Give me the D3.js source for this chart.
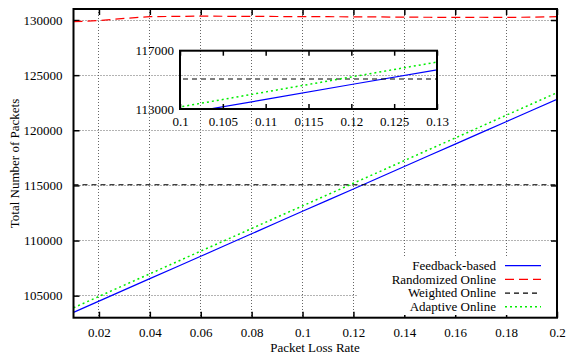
<!DOCTYPE html>
<html>
<head>
<meta charset="utf-8">
<script src="https://cdn.jsdelivr.net/npm/d3@7"></script>
<style>
  body { margin: 0; background: #fff; }
  svg text { font-family: "Liberation Serif", "Times New Roman", "DejaVu Serif", serif !important; }
</style>
</head>
<body>
<div id="chart"></div>
<script>
// data
var lossRates = [0.01, 0.02, 0.03, 0.04, 0.05, 0.06, 0.07, 0.08, 0.09, 0.10,
                 0.11, 0.12, 0.13, 0.14, 0.15, 0.16, 0.17, 0.18, 0.19, 0.20];
var feedback   = [103480, 104500, 105520, 106540, 107560, 108570, 109590, 110610, 111630, 112650,
                  113660, 114680, 115690, 116710, 117730, 118740, 119760, 120780, 121790, 122810];
var randomized = [129850, 129950, 130150, 130300, 130330, 130350, 130340, 130330, 130320, 130300,
                  130300, 130290, 130280, 130260, 130250, 130240, 130250, 130240, 130260, 130300];
var weighted   = [115060, 115060, 115060, 115060, 115060, 115060, 115060, 115060, 115060, 115060,
                  115060, 115060, 115060, 115060, 115060, 115060, 115060, 115060, 115060, 115060];
var adaptive   = [103900, 104930, 105960, 106980, 108010, 109040, 110060, 111090, 112120, 113140,
                  114170, 115200, 116220, 117250, 118280, 119300, 120330, 121360, 122380, 123410];

var xTicks = [0.02, 0.04, 0.06, 0.08, 0.1, 0.12, 0.14, 0.16, 0.18, 0.2];
var yTicks = [105000, 110000, 115000, 120000, 125000, 130000];
var insetXTicks = [0.1, 0.105, 0.11, 0.115, 0.12, 0.125, 0.13];
var insetYTicks = [113000, 117000];

var seriesNames = ["Feedback-based", "Randomized Online", "Weighted Online", "Adaptive Online"];
var seriesData = [feedback, randomized, weighted, adaptive];
var seriesColor = ["#0000ff", "#ff0000", "#000000", "#00ee00"];
var seriesDash = [null, "9,5", "5,4", "2,3"];
var seriesWidth = [1.2, 1.2, 1.2, 1.5];

var W = 569, H = 359;
var svg = d3.select("#chart").append("svg").attr("width", W).attr("height", H);

// main scales
var x = d3.scaleLinear().domain([0.01, 0.2]).range([73.5, 557]);
var y = d3.scaleLinear().domain([103000, 131000]).range([317.7, 9]);

svg.append("clipPath").attr("id", "mainClip").append("rect")
   .attr("x", 73.5).attr("y", 9).attr("width", 557 - 73.5).attr("height", 317.7 - 9);

// grid (snapped to half pixels so the dots stay crisp)
function snap(v){ return Math.round(v - 0.5) + 0.5; }
var grid = svg.append("g").attr("stroke", "#666").attr("stroke-width", 1).attr("stroke-dasharray", "1,2");
xTicks.forEach(function(t){
  if (t >= 0.2) return;
  grid.append("line").attr("x1", snap(x(t))).attr("x2", snap(x(t))).attr("y1", y(131000)).attr("y2", y(103000));
});
yTicks.forEach(function(t){
  grid.append("line").attr("x1", x(0.01)).attr("x2", x(0.2)).attr("y1", snap(y(t))).attr("y2", snap(y(t)));
});

// axes with inward ticks
var fs = "13px";
var axB = svg.append("g").attr("transform", "translate(0," + y(103000) + ")")
  .call(d3.axisBottom(x).tickValues(xTicks).tickSize(-6).tickPadding(10).tickFormat(d3.format("")));
var axT = svg.append("g").attr("transform", "translate(0," + y(131000) + ")")
  .call(d3.axisTop(x).tickValues(xTicks).tickSize(-6).tickFormat(""));
var axL = svg.append("g").attr("transform", "translate(" + x(0.01) + ",0)")
  .call(d3.axisLeft(y).tickValues(yTicks).tickSize(-6).tickPadding(11).tickFormat(d3.format("d")));
var axR = svg.append("g").attr("transform", "translate(" + x(0.2) + ",0)")
  .call(d3.axisRight(y).tickValues(yTicks).tickSize(-6).tickFormat(""));
[axB, axT, axL, axR].forEach(function(a){
  a.select(".domain").remove();
  a.selectAll(".tick line").attr("stroke", "#000").attr("stroke-width", 1.5);
  a.selectAll("text").attr("font-size", fs).attr("fill", "#000");
});

// series lines (main)
var lineMain = d3.line().x(function(d){ return x(d[0]); }).y(function(d){ return y(d[1]); });
var mainLines = svg.append("g").attr("clip-path", "url(#mainClip)");
seriesData.forEach(function(s, i){
  mainLines.append("path")
    .datum(lossRates.map(function(r, j){ return [r, s[j]]; }))
    .attr("d", lineMain).attr("fill", "none")
    .attr("stroke", seriesColor[i]).attr("stroke-width", seriesWidth[i])
    .attr("stroke-dasharray", seriesDash[i]);
});

// inset
var ix = d3.scaleLinear().domain([0.1, 0.13]).range([180, 437]);
var iy = d3.scaleLinear().domain([113000, 117000]).range([109, 50.7]);
svg.append("clipPath").attr("id", "insetClip").append("rect")
   .attr("x", 180).attr("y", 50.7).attr("width", 257).attr("height", 109 - 50.7);
var lineInset = d3.line().x(function(d){ return ix(d[0]); }).y(function(d){ return iy(d[1]); });
var insetLines = svg.append("g").attr("clip-path", "url(#insetClip)");
seriesData.forEach(function(s, i){
  insetLines.append("path")
    .datum(lossRates.map(function(r, j){ return [r, s[j]]; }))
    .attr("d", lineInset).attr("fill", "none")
    .attr("stroke", seriesColor[i]).attr("stroke-width", seriesWidth[i])
    .attr("stroke-dasharray", seriesDash[i]);
});
var iB = svg.append("g").attr("transform", "translate(0,109)")
  .call(d3.axisBottom(ix).tickValues(insetXTicks).tickSize(-5).tickPadding(8).tickFormat(d3.format("")));
var iT = svg.append("g").attr("transform", "translate(0,50.7)")
  .call(d3.axisTop(ix).tickValues(insetXTicks).tickSize(-5).tickFormat(""));
var iL = svg.append("g").attr("transform", "translate(180,0)")
  .call(d3.axisLeft(iy).tickValues(insetYTicks).tickSize(0).tickPadding(6).tickFormat(d3.format("d")));
[iB, iT, iL].forEach(function(a){
  a.select(".domain").remove();
  a.selectAll(".tick line").attr("stroke", "#000").attr("stroke-width", 1.5);
  a.selectAll("text").attr("font-size", fs).attr("fill", "#000");
});
svg.append("rect").attr("x", 180).attr("y", 50.7).attr("width", 257).attr("height", 109 - 50.7)
  .attr("fill", "none").attr("stroke", "#000").attr("stroke-width", 2);

// legend
svg.append("rect").attr("x", 358).attr("y", 257).attr("width", 557 - 358).attr("height", 58)
  .attr("fill", "#fff");
var leg = svg.append("g");
seriesNames.forEach(function(n, i){
  var ly = 265.7 + i * 13.7;
  leg.append("text").attr("x", 496).attr("y", ly).attr("dy", "0.33em")
    .attr("text-anchor", "end").attr("font-size", fs).text(n);
  leg.append("line").attr("x1", 505).attr("x2", 541).attr("y1", ly).attr("y2", ly)
    .attr("stroke", seriesColor[i]).attr("stroke-width", seriesWidth[i])
    .attr("stroke-dasharray", seriesDash[i]);
});

// frame
svg.append("rect").attr("x", 73.5).attr("y", 9).attr("width", 557 - 73.5).attr("height", 317.7 - 9)
  .attr("fill", "none").attr("stroke", "#000").attr("stroke-width", 2);

// axis titles
svg.append("text").attr("x", 315).attr("y", 352).attr("text-anchor", "middle")
  .attr("font-size", fs).text("Packet Loss Rate");
svg.append("text").attr("transform", "translate(19,163.5) rotate(-90)").attr("text-anchor", "middle")
  .attr("font-size", fs).text("Total Number of Packets");
</script>
</body>
</html>
